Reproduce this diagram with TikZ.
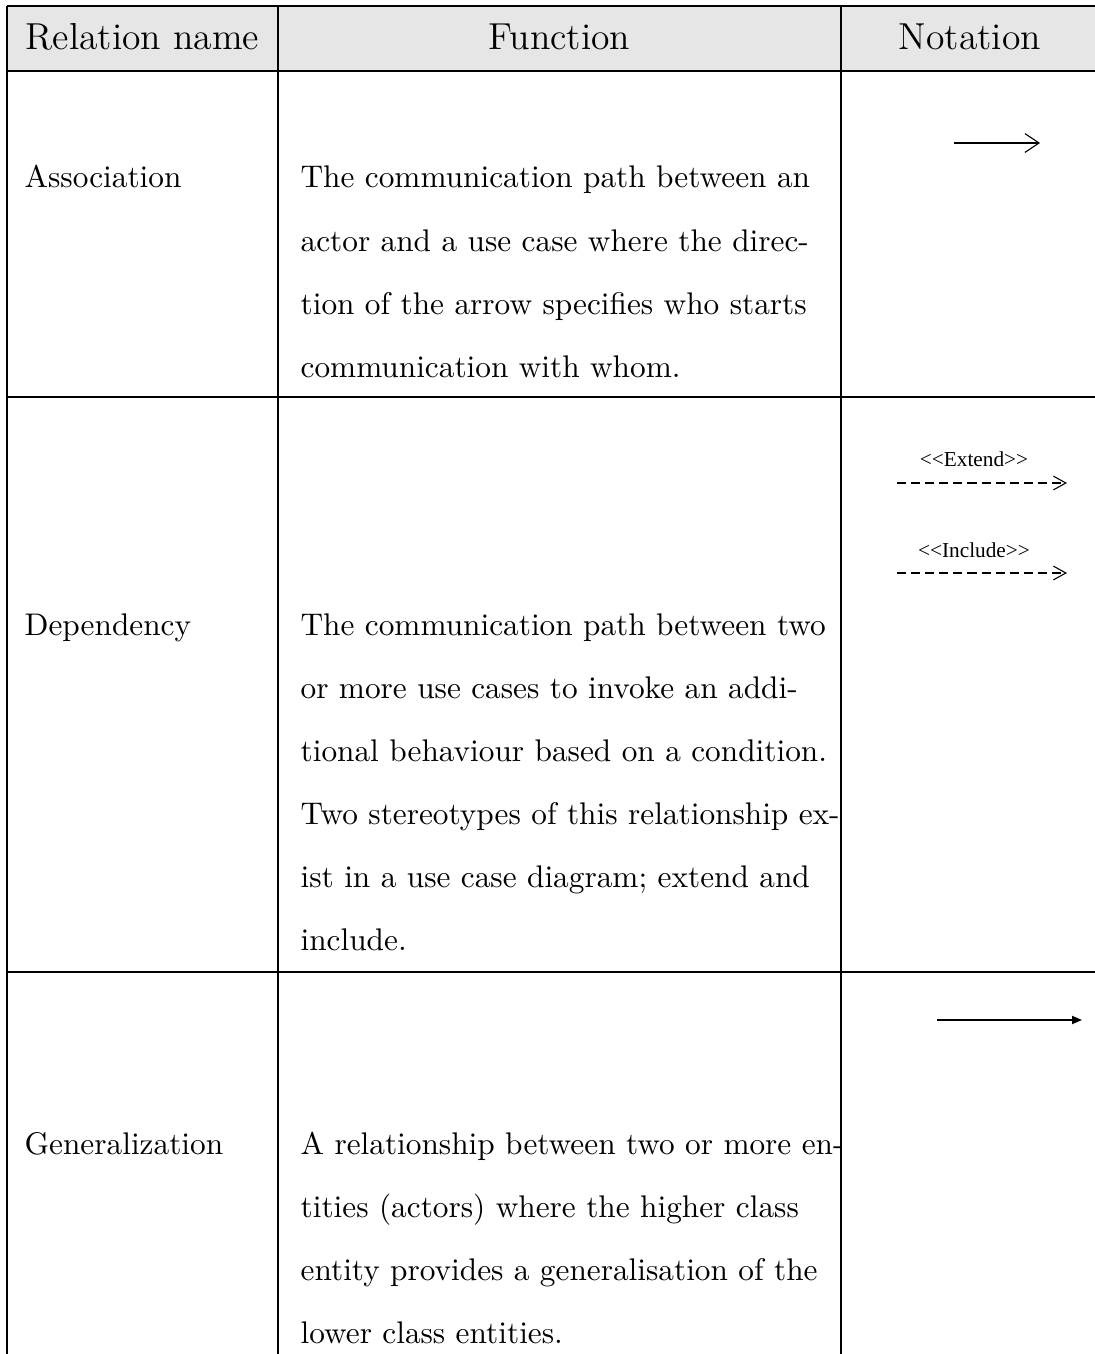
\documentclass[tikz,border=0pt]{standalone}
\usepackage{fontspec}
\usetikzlibrary{arrows.meta}
\newfontfamily\stereofont{Liberation Serif}
\newcommand\fnline[1]{\hbox to\hsize{#1}}
\definecolor{headgray}{HTML}{E6E6E6}
\begin{document}
\begin{tikzpicture}[x=0.3195pt,y=-0.3195pt,
  rule/.style={line width=0.45pt,black},
  headtext/.style={font=\large,anchor=base,inner sep=0pt},
  nametext/.style={font=\normalsize,anchor=base west,inner sep=0pt},
  fntext/.style={anchor=base west,inner sep=0pt,text width=167.1pt,
    font=\fontsize{10pt}{20.13pt}\selectfont},
  stereo/.style={font=\stereofont\fontsize{6.8pt}{8pt}\selectfont,anchor=base,inner sep=0pt},
  assoc/.style={line width=0.35pt,-{Straight Barb[length=4.5pt,width=6pt]}},
  dep/.style={line width=0.35pt,dash pattern=on 2.9pt off 1.6pt,
    -{Straight Barb[length=4pt,width=4.4pt]}},
  gen/.style={line width=0.45pt,-{Triangle[length=3.2pt,width=2.6pt]}}]
\useasboundingbox (0,0) rectangle (1094,1354);

% header band
\fill[headgray] (7,6) rectangle (1100,71);

% grid
\draw[rule] (7,6) -- (1100,6);
\draw[rule] (7,71) -- (1100,71);
\draw[rule] (7,397) -- (1100,397);
\draw[rule] (7,972) -- (1100,972);
\draw[rule] (7,6) -- (7,1360);
\draw[rule] (278,6) -- (278,1360);
\draw[rule] (841,6) -- (841,1360);

% header
\node[headtext] (hname) at (142.5,50) {Relation name};
\node[headtext] (hfunc) at (559.5,50) {Function};
\node[headtext] (hnot) at (970,50) {Notation};

% association
\node[nametext] (nassoc) at (24,188) {Association};
\node[fntext] (fassoc) at (300,188) {%
\fnline{The communication path between an}
\fnline{actor and a use case where the direc-}
\fnline{tion of the arrow specifies who starts}
\hbox{communication with whom.}};
\coordinate (as) at (954,143);
\coordinate (ae) at (1040,143);
\draw[assoc] (as) -- (ae);

% dependency
\node[nametext] (ndep) at (24,635) {Dependency};
\node[fntext] (fdep) at (300,635) {%
\fnline{The communication path between two}
\fnline{or more use cases to invoke an addi-}
\fnline{tional behaviour based on a condition.}
\fnline{Two stereotypes of this relationship ex-}
\fnline{ist in a use case diagram; extend and}
\hbox{include.}};
\node[stereo] (sext) at (974,466) {<{}<Extend>{}>};
\coordinate (es) at (897,483);
\coordinate (ee) at (1067,483);
\draw[dep] (es) -- (ee);
\node[stereo] (sinc) at (974,557) {<{}<Include>{}>};
\coordinate (is) at (897,573);
\coordinate (ie) at (1067,573);
\draw[dep] (is) -- (ie);

% generalization
\node[nametext] (ngen) at (24,1154) {Generalization};
\node[fntext] (fgen) at (300,1154) {%
\fnline{A relationship between two or more en-}
\fnline{tities (actors) where the higher class}
\fnline{entity provides a generalisation of the}
\hbox{lower class entities.}};
\coordinate (gs) at (937,1020);
\coordinate (ge) at (1082,1020);
\draw[gen] (gs) -- (ge);
\end{tikzpicture}
\end{document}
